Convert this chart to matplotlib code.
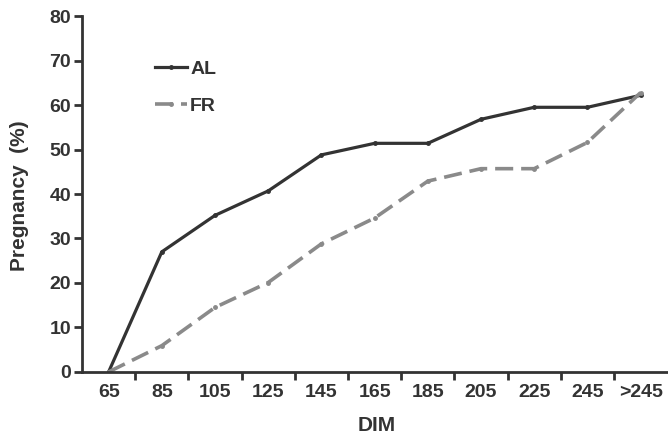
"""Pregnancy rate by DIM for AL and FR groups."""

import matplotlib
matplotlib.use("Agg")
import matplotlib.pyplot as plt
import numpy as np

categories = ["65", "85", "105", "125", "145", "165", "185", "205", "225", "245", ">245"]
al_values = [0, 27, 35.2, 40.7, 48.8, 51.4, 51.4, 56.8, 59.5, 59.5, 62.2]
fr_values = [0, 5.9, 14.5, 20.1, 28.8, 34.6, 42.9, 45.7, 45.7, 51.6, 62.8]

plt.rcParams["font.family"] = ["Liberation Sans", "DejaVu Sans"]
plt.rcParams["font.weight"] = "bold"

DARK = "#333333"

fig = plt.figure(figsize=(6.68, 4.36), dpi=100)
ax = fig.add_axes([0.1228, 0.147, 0.876, 0.816])

x = np.arange(len(categories))
ax.plot(x, al_values, color=DARK, lw=2.3, marker="o", ms=2.5, label="AL")
ax.plot(x, fr_values, color="#8a8a8a", lw=2.6, ls=(0, (5, 2.2)),
        marker="o", ms=2.5, label="FR")

ax.set_xlim(-0.5, len(categories) - 0.5)
ax.set_ylim(0, 80)
ax.set_yticks(np.arange(0, 81, 10))
ax.set_xticks(x)
ax.set_xticklabels(categories)
ax.set_xticks(np.arange(0.5, len(categories) - 0.5, 1), minor=True)

for side in ("top", "right"):
    ax.spines[side].set_visible(False)
for side in ("left", "bottom"):
    ax.spines[side].set_linewidth(2)
    ax.spines[side].set_color(DARK)

ax.tick_params(axis="x", which="major", length=0, pad=9, labelsize=14, colors=DARK)
ax.tick_params(axis="x", which="minor", length=6, width=2, color=DARK, direction="out")
ax.tick_params(axis="y", length=6, width=2, color=DARK, labelsize=14,
               labelcolor=DARK, pad=2)

ax.set_xlabel("DIM", fontsize=15, fontweight="bold", color=DARK)
ax.set_ylabel("Pregnancy  (%)", fontsize=15, fontweight="bold", color=DARK)
ax.xaxis.set_label_coords(0.504, -0.125)
ax.yaxis.set_label_coords(-0.09, 0.494)

ax.legend(loc="upper left", bbox_to_anchor=(0.095, 0.925), frameon=False,
          fontsize=14, handlelength=1.65, handletextpad=0.15, labelspacing=1.0,
          labelcolor=DARK)

fig.savefig("out.png", dpi=100)
